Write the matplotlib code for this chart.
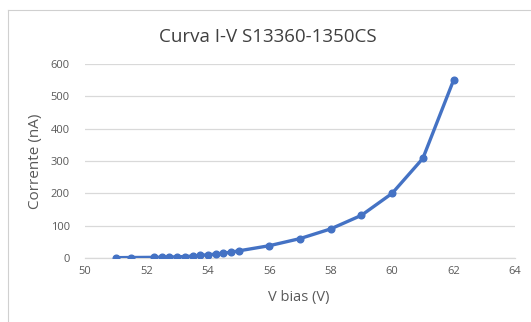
import matplotlib
matplotlib.use("Agg")
import matplotlib.pyplot as plt
from matplotlib.lines import Line2D

plt.rcParams['font.family'] = ['Open Sans', 'DejaVu Sans']

v_bias = [51, 51.5, 52.25, 52.5, 52.75, 53, 53.25, 53.5, 53.75, 54, 54.25,
          54.5, 54.75, 55, 56, 57, 58, 59, 60, 61, 62]
corrente = [1, 1.5, 2, 2.5, 3, 3.5, 4.5, 6, 8, 10, 12,
            15, 18, 22, 38, 60, 90, 132, 200, 308, 550]
x_ticks = [50, 52, 54, 56, 58, 60, 62, 64]
y_ticks = [0, 100, 200, 300, 400, 500, 600]

W, H = 531, 322
fig = plt.figure(figsize=(W / 100, H / 100), dpi=100)
ax = fig.add_axes([85 / W, 1 - 258 / H, (515 - 85) / W, (258 - 64) / H])

grid_c = '#d9d9d9'
text_c = '#595959'

ax.plot(v_bias, corrente, color='#4472C4', linewidth=2.4, marker='o',
        markersize=4.8, zorder=3)

ax.set_xlim(50, 64)
ax.set_ylim(0, 600)
ax.set_xticks(x_ticks)
ax.set_yticks(y_ticks)
ax.yaxis.grid(True, color=grid_c, linewidth=0.9)
ax.set_axisbelow(True)
for s in ['top', 'right', 'left']:
    ax.spines[s].set_visible(False)
ax.spines['bottom'].set_color(grid_c)
ax.spines['bottom'].set_linewidth(0.9)
ax.tick_params(axis='both', length=0, labelsize=8, labelcolor=text_c)
ax.tick_params(axis='x', pad=6)
ax.tick_params(axis='y', pad=11)

fig.text(268 / W, 1 - 37 / H, 'Curva I-V S13360-1350CS', ha='center',
         va='center', fontsize=13.5, color='#404040')
fig.text(299 / W, 1 - 298 / H, 'V bias (V)', ha='center', va='center',
         fontsize=10.5, color=text_c)
fig.text(35 / W, 1 - 161 / H, 'Corrente (nA)', ha='center', va='center',
         fontsize=11, color=text_c, rotation=90)

# outer frame (only left and top edges visible)
fig.add_artist(Line2D([7.5 / W, 7.5 / W], [0, 1 - 10 / H],
                      transform=fig.transFigure, color='#d0d0d0', linewidth=0.8))
fig.add_artist(Line2D([7.5 / W, 1], [1 - 10 / H, 1 - 10 / H],
                      transform=fig.transFigure, color='#d0d0d0', linewidth=0.8))

fig.savefig("out.png", dpi=100)
plt.close(fig)
